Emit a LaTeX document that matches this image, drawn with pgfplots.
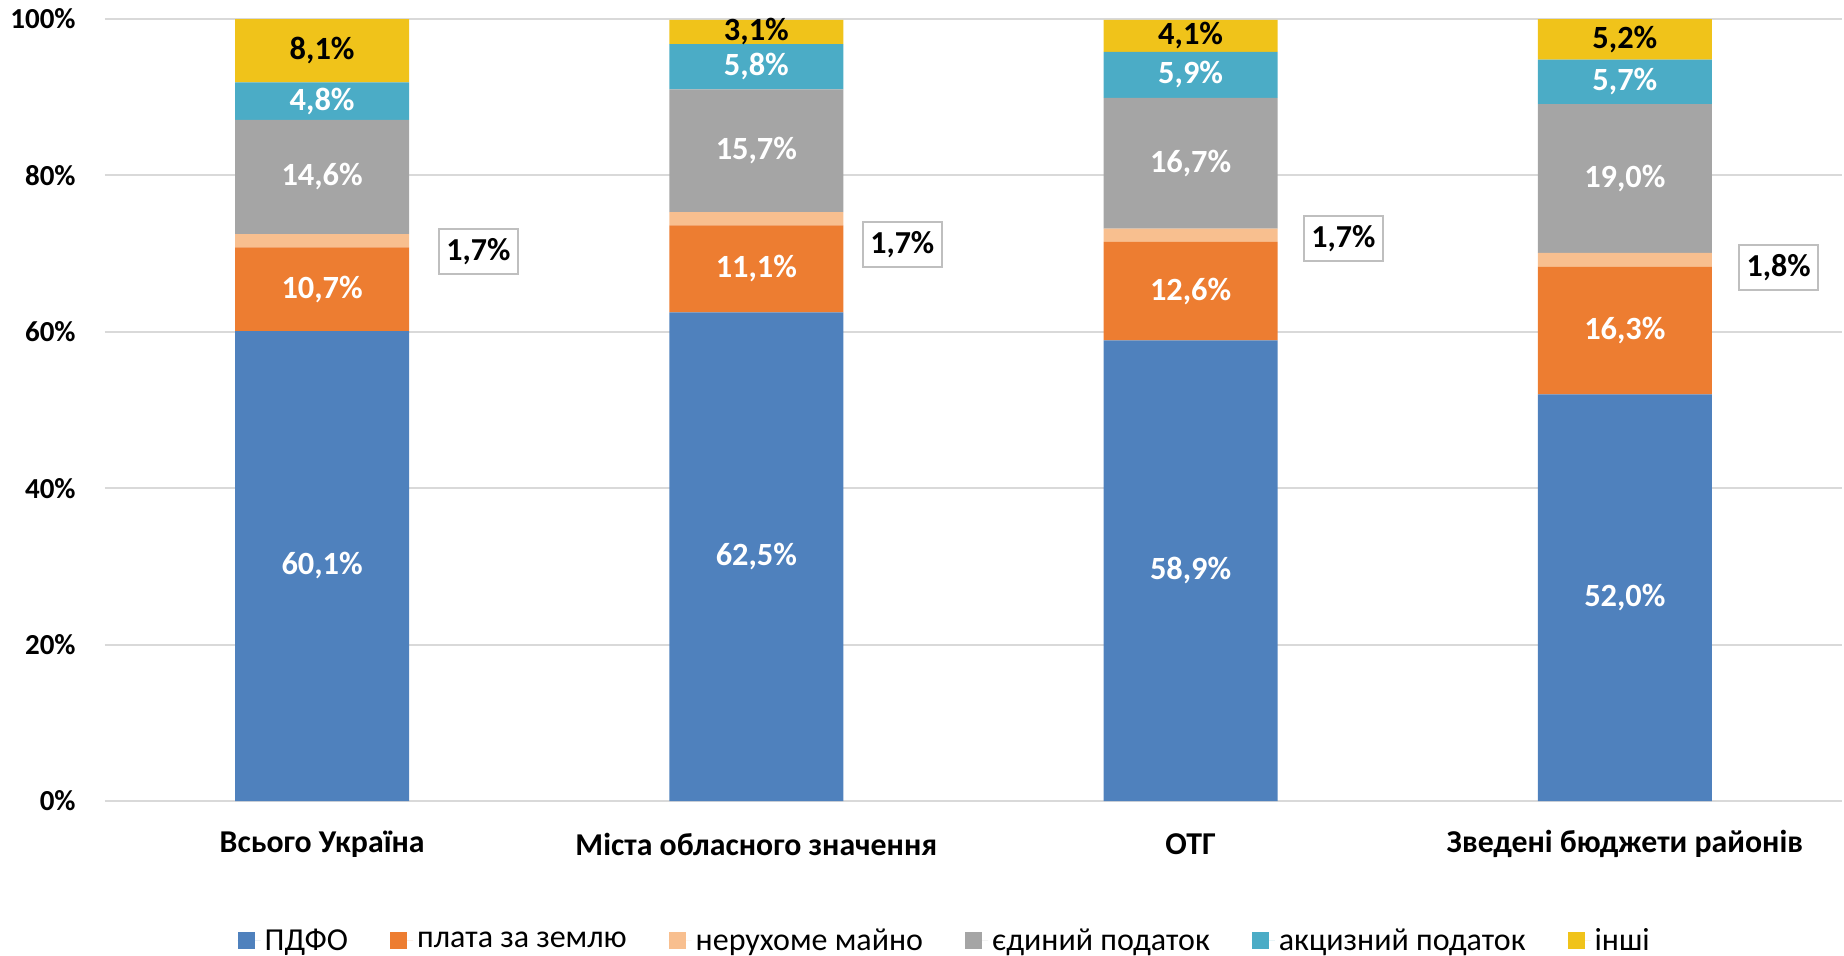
\documentclass[border=0pt]{standalone}
\usepackage{pgfplots}
\pgfplotsset{compat=1.18}
\usepackage{fontspec}
\setmainfont{Carlito}
\definecolor{cBlue}{HTML}{4F81BD}
\definecolor{cOrange}{HTML}{ED7D31}
\definecolor{cPeach}{HTML}{F8BF8F}
\definecolor{cGrey}{HTML}{A5A5A5}
\definecolor{cTeal}{HTML}{4BACC6}
\definecolor{cYellow}{HTML}{F0C31A}
\definecolor{gridgray}{HTML}{D9D9D9}
\definecolor{boxgray}{HTML}{BFBFBF}
\tikzset{
  lbl/.style={font=\bfseries\fontsize{16.2}{19}\selectfont, text=white},
  lblk/.style={font=\bfseries\fontsize{16.2}{19}\selectfont, text=black},
  lbox/.style={font=\bfseries\fontsize{16}{19}\selectfont, text=black, fill=white, draw=boxgray, line width=1pt, inner xsep=3.75pt, minimum height=22.5pt},
}
\begin{document}
\begin{tikzpicture}
\begin{axis}[
  at={(0,0)}, anchor=south west,
  scale only axis, width=868.5pt, height=391pt,
  ybar stacked, bar width=87pt,
  xmin=-0.5, xmax=3.5, ymin=0, ymax=100,
  xtick={0,1,2,3},
  xticklabels={Всього Україна, Міста обласного значення, ОТГ, Зведені бюджети районів},
  ytick={0,20,40,60,80,100},
  yticklabels={0\%,20\%,40\%,60\%,80\%,100\%},
  xticklabel style={font=\bfseries\fontsize{15.9}{19}\selectfont, anchor=center, yshift=-21.5pt},
  yticklabel style={font=\bfseries\fontsize{14.5}{17}\selectfont, anchor=east, inner sep=0pt, xshift=-14.5pt},
  major tick length=0pt,
  axis line style={draw=none},
  ymajorgrids, grid style={draw=gridgray, line width=1pt},
  legend image code/.code={\fill[#1] (0pt,-4.25pt) rectangle (8.5pt,4.25pt); \path (0pt,0pt) -- (11.5pt,0pt);},
  legend columns=6,
  legend style={at={(0.484,-0.179)}, anchor=center, draw=none,
    font=\fontsize{16}{19}\selectfont,
    /tikz/every even column/.append style={column sep=19pt}},
]
\addplot[fill=cBlue, draw=none] coordinates {(0,60.1) (1,62.5) (2,58.9) (3,52.0)};
\addlegendentry{ПДФО}
\addplot[fill=cOrange, draw=none] coordinates {(0,10.7) (1,11.1) (2,12.6) (3,16.3)};
\addlegendentry{плата за землю}
\addplot[fill=cPeach, draw=none] coordinates {(0,1.7) (1,1.7) (2,1.7) (3,1.8)};
\addlegendentry{нерухоме майно}
\addplot[fill=cGrey, draw=none] coordinates {(0,14.6) (1,15.7) (2,16.7) (3,19.0)};
\addlegendentry{єдиний податок}
\addplot[fill=cTeal, draw=none] coordinates {(0,4.8) (1,5.8) (2,5.9) (3,5.7)};
\addlegendentry{акцизний податок}
\addplot[fill=cYellow, draw=none] coordinates {(0,8.1) (1,3.1) (2,4.1) (3,5.2)};
\addlegendentry{інші}
% label anchor points (segment midpoints)
\coordinate (a1) at (axis cs:0,30.05);
\coordinate (a2) at (axis cs:0,65.45);
\coordinate (a4) at (axis cs:0,79.8);
\coordinate (a5) at (axis cs:0,89.5);
\coordinate (a6) at (axis cs:0,95.95);
\coordinate (b1) at (axis cs:1,31.25);
\coordinate (b2) at (axis cs:1,68.05);
\coordinate (b4) at (axis cs:1,83.15);
\coordinate (b5) at (axis cs:1,93.9);
\coordinate (b6) at (axis cs:1,98.35);
\coordinate (c1) at (axis cs:2,29.45);
\coordinate (c2) at (axis cs:2,65.2);
\coordinate (c4) at (axis cs:2,81.55);
\coordinate (c5) at (axis cs:2,92.85);
\coordinate (c6) at (axis cs:2,97.85);
\coordinate (d1) at (axis cs:3,26.0);
\coordinate (d2) at (axis cs:3,60.15);
\coordinate (d4) at (axis cs:3,79.6);
\coordinate (d5) at (axis cs:3,91.95);
\coordinate (d6) at (axis cs:3,97.4);
\coordinate (a3) at (axis cs:0.36,70.3);
\coordinate (b3) at (axis cs:1.336,71.1);
\coordinate (c3) at (axis cs:2.352,71.9);
\coordinate (d3) at (axis cs:3.354,68.2);
\end{axis}
\node[lbl] at (a1) {60,1\%};
\node[lbl] at (a2) {10,7\%};
\node[lbl] at (a4) {14,6\%};
\node[lbl] at (a5) {4,8\%};
\node[lblk] at (a6) {8,1\%};
\node[lbl] at (b1) {62,5\%};
\node[lbl] at (b2) {11,1\%};
\node[lbl] at (b4) {15,7\%};
\node[lbl] at (b5) {5,8\%};
\node[lblk] at (b6) {3,1\%};
\node[lbl] at (c1) {58,9\%};
\node[lbl] at (c2) {12,6\%};
\node[lbl] at (c4) {16,7\%};
\node[lbl] at (c5) {5,9\%};
\node[lblk] at (c6) {4,1\%};
\node[lbl] at (d1) {52,0\%};
\node[lbl] at (d2) {16,3\%};
\node[lbl] at (d4) {19,0\%};
\node[lbl] at (d5) {5,7\%};
\node[lblk] at (d6) {5,2\%};
\node[lbox] at (a3) {1,7\%};
\node[lbox] at (b3) {1,7\%};
\node[lbox] at (c3) {1,7\%};
\node[lbox] at (d3) {1,8\%};
\pgfresetboundingbox
\path[use as bounding box] (-52.5pt,-77pt) rectangle (869.5pt,400.5pt);
\end{tikzpicture}
\end{document}
